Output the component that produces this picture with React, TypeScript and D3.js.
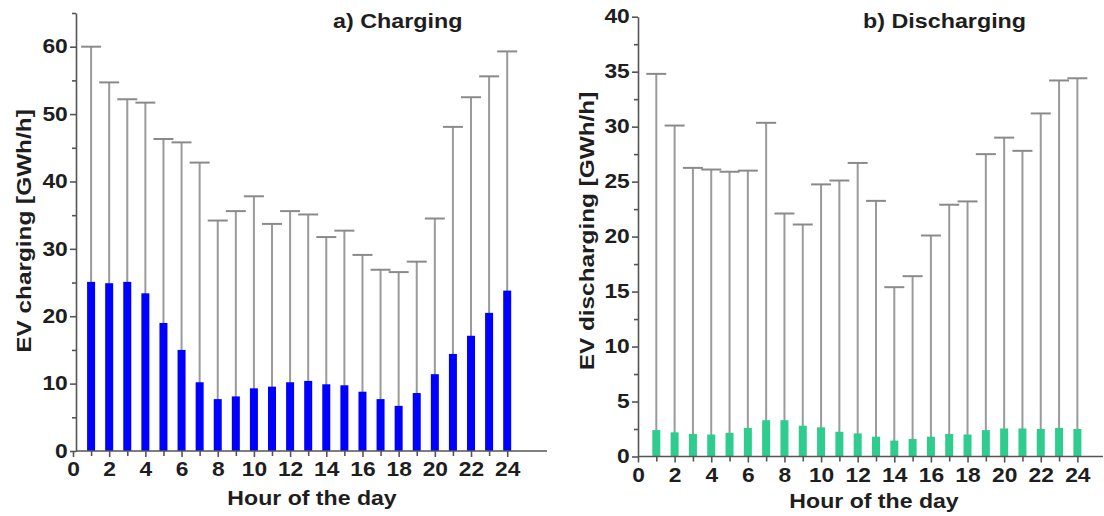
import React, { useEffect, useRef } from "react";
import * as d3 from "d3";

const hours = [1, 2, 3, 4, 5, 6, 7, 8, 9, 10, 11, 12, 13, 14, 15, 16, 17, 18, 19, 20, 21, 22, 23, 24];

// charging: mean (bar) and max (whisker top), GWh/h
const chargingMean = [25.1, 24.9, 25.1, 23.4, 19.0, 15.0, 10.2, 7.7, 8.1, 9.3, 9.55, 10.2, 10.4, 9.9, 9.75, 8.8, 7.7, 6.7, 8.6, 11.4, 14.4, 17.1, 20.5, 23.8];
const chargingMax = [60.0, 54.7, 52.2, 51.7, 46.3, 45.8, 42.8, 34.2, 35.6, 37.8, 33.7, 35.6, 35.1, 31.75, 32.7, 29.1, 26.9, 26.55, 28.1, 34.5, 48.1, 52.5, 55.6, 59.3];

// discharging: mean (bar) and max (whisker top), GWh/h
const dischargingMean = [2.4, 2.2, 2.05, 2.0, 2.15, 2.6, 3.3, 3.3, 2.8, 2.65, 2.25, 2.1, 1.8, 1.45, 1.6, 1.8, 2.05, 2.0, 2.4, 2.55, 2.55, 2.5, 2.6, 2.5];
const dischargingMax = [34.8, 30.1, 26.25, 26.1, 25.9, 26.0, 30.35, 22.1, 21.1, 24.75, 25.1, 26.7, 23.25, 15.4, 16.4, 20.1, 22.9, 23.2, 27.5, 29.0, 27.8, 31.2, 34.2, 34.4];

const xTickLabels = [0, 2, 4, 6, 8, 10, 12, 14, 16, 18, 20, 22, 24];
const chargingYTicks = [0, 10, 20, 30, 40, 50, 60];
const dischargingYTicks = [0, 5, 10, 15, 20, 25, 30, 35, 40];

const FONT = "'Liberation Sans', Arial, Helvetica, sans-serif";
const INK = "#1e1e1e";

const App = () => {
  const svgRef = useRef(null);

  useEffect(() => {
    const svg = d3.select(svgRef.current);
    svg.selectAll("*").remove();

    const panels = [
      {
        title: "a) Charging", titleX: 333, yTitle: "EV charging [GWh/h]", yTitleX: 31,
        mean: chargingMean, max: chargingMax, color: "#0000ff",
        xDomain: [0, 26.2], xRange: [73, 547], yDomain: [0, 65], yRange: [451, 13],
        yTicks: chargingYTicks, yMinor: d3.range(5, 66, 10), axisX: 76, xTitleX: 312, xTitleY: 505,
      },
      {
        title: "b) Discharging", titleX: 863, yTitle: "EV discharging [GWh/h]", yTitleX: 594,
        mean: dischargingMean, max: dischargingMax, color: "#2ecc8e",
        xDomain: [0, 25.4], xRange: [638, 1103], yDomain: [0, 40], yRange: [456.5, 16.7],
        yTicks: dischargingYTicks, yMinor: d3.range(2.5, 40, 5), axisX: 638, xTitleX: 874, xTitleY: 508,
      },
    ];

    panels.forEach(p => {
      const x = d3.scaleLinear().domain(p.xDomain).range(p.xRange);
      const y = d3.scaleLinear().domain(p.yDomain).range(p.yRange);
      const g = svg.append("g");
      const y0 = y(0);

      // whiskers from the baseline up to the max
      g.selectAll(".whisker")
        .data(hours)
        .join("line")
        .attr("x1", d => x(d)).attr("x2", d => x(d))
        .attr("y1", y0).attr("y2", (d, i) => y(p.max[i]))
        .attr("stroke", "#9a9a9a").attr("stroke-width", 2);

      g.selectAll(".cap")
        .data(hours)
        .join("line")
        .attr("x1", d => x(d) - 10).attr("x2", d => x(d) + 10)
        .attr("y1", (d, i) => y(p.max[i])).attr("y2", (d, i) => y(p.max[i]))
        .attr("stroke", "#8a8a8a").attr("stroke-width", 2);

      // bars
      g.selectAll(".bar")
        .data(hours)
        .join("rect")
        .attr("x", d => x(d) - 4)
        .attr("width", 8)
        .attr("y", (d, i) => y(p.mean[i]))
        .attr("height", (d, i) => y0 - y(p.mean[i]))
        .attr("fill", p.color);

      // y axis
      const yAxis = g.append("g")
        .attr("transform", `translate(${p.axisX},0)`)
        .call(d3.axisLeft(y).tickValues(p.yTicks).tickSize(6).tickSizeOuter(0).tickPadding(1));
      g.append("g")
        .attr("transform", `translate(${p.axisX},0)`)
        .call(d3.axisLeft(y).tickValues(p.yMinor).tickSize(4).tickFormat(() => "").tickSizeOuter(0))
        .call(a => a.select(".domain").remove());

      // x axis
      const xAxis = g.append("g")
        .attr("transform", `translate(0,${y0})`)
        .call(d3.axisBottom(x).tickValues(xTickLabels).tickSize(6).tickSizeOuter(0).tickPadding(5).tickFormat(d3.format("d")));
      g.append("g")
        .attr("transform", `translate(0,${y0})`)
        .call(d3.axisBottom(x).tickValues(hours.filter(h => h % 2 === 1)).tickSize(5).tickFormat(() => "").tickSizeOuter(0))
        .call(a => a.select(".domain").remove());
      xAxis.select(".domain").attr("d", `M${p.axisX},0H${p.xRange[1]}`);

      svg.selectAll(".domain, .tick line").attr("stroke", "#555").attr("stroke-width", 1.6);
      yAxis.selectAll("text")
        .style("font", `bold 19.5px ${FONT}`).attr("fill", INK)
        .attr("transform", "scale(1.17,1)");
      xAxis.selectAll("text")
        .style("font", `bold 20px ${FONT}`).attr("fill", INK)
        .attr("transform", "scale(1.14,1)");

      // titles (the original type is wider than Arial, hence the scaleX)
      g.append("text")
        .attr("transform", `translate(${p.titleX},28) scale(1.11,1)`)
        .style("font", `bold 21px ${FONT}`).attr("fill", INK)
        .text(p.title);
      g.append("text")
        .attr("transform", `translate(${p.xTitleX},${p.xTitleY}) scale(1.1,1)`)
        .attr("text-anchor", "middle")
        .style("font", `bold 21px ${FONT}`).attr("fill", INK)
        .text("Hour of the day");
      g.append("text")
        .attr("transform", `translate(${p.yTitleX},231) rotate(-90) scale(1.16,1)`)
        .attr("text-anchor", "middle")
        .style("font", `bold 21px ${FONT}`).attr("fill", INK)
        .text(p.yTitle);
    });
  }, []);

  return (
    <svg ref={svgRef} width={1104} height={516}
      style={{ position: "absolute", left: 0, top: 0, background: "#fff" }} />
  );
};

export default App;
